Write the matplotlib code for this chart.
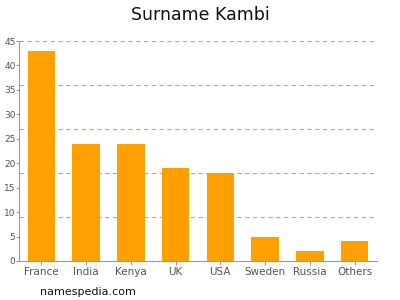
import matplotlib
matplotlib.use('Agg')
import matplotlib.pyplot as plt
import numpy as np

countries = ['France', 'India', 'Kenya', 'UK', 'USA', 'Sweden', 'Russia', 'Others']
counts = [43, 24, 24, 19, 18, 5, 2, 4]
yticks = [0, 5, 10, 15, 20, 25, 30, 35, 40, 45]
grid_levels = [9, 18, 27, 36, 45]

fig = plt.figure(figsize=(4, 3), dpi=100)
ax = fig.add_axes([0.0475, 0.13, 0.895, 0.7333])

x = np.arange(len(countries))
ax.bar(x, counts, width=0.62, color='#ffa000', zorder=2)

for g in grid_levels:
    ax.axhline(g, color='#aaaaaa', linestyle=(0, (4, 3)), linewidth=0.8, zorder=1)

ax.set_xlim(-0.5, len(countries) - 0.5)
ax.set_ylim(0, 45)
ax.set_xticks(x)
ax.set_xticklabels(countries)
ax.set_yticks(yticks)

for s in ['top', 'right']:
    ax.spines[s].set_visible(False)
for s in ['left', 'bottom']:
    ax.spines[s].set_color('#999999')
    ax.spines[s].set_linewidth(0.8)

ax.tick_params(axis='both', colors='#999999', labelcolor='#555555', labelsize=7.5, length=3, width=0.8, pad=1.5)
ax.tick_params(axis='y', labelsize=6.5, length=2, pad=0.5)

fig.text(0.5, 0.95, 'Surname Kambi', ha='center', va='center', fontsize=12.5, color='#111111')
fig.text(0.1, 0.027, 'namespedia.com', ha='left', va='center', fontsize=8, color='#111111')

fig.savefig('out.png', dpi=100)
